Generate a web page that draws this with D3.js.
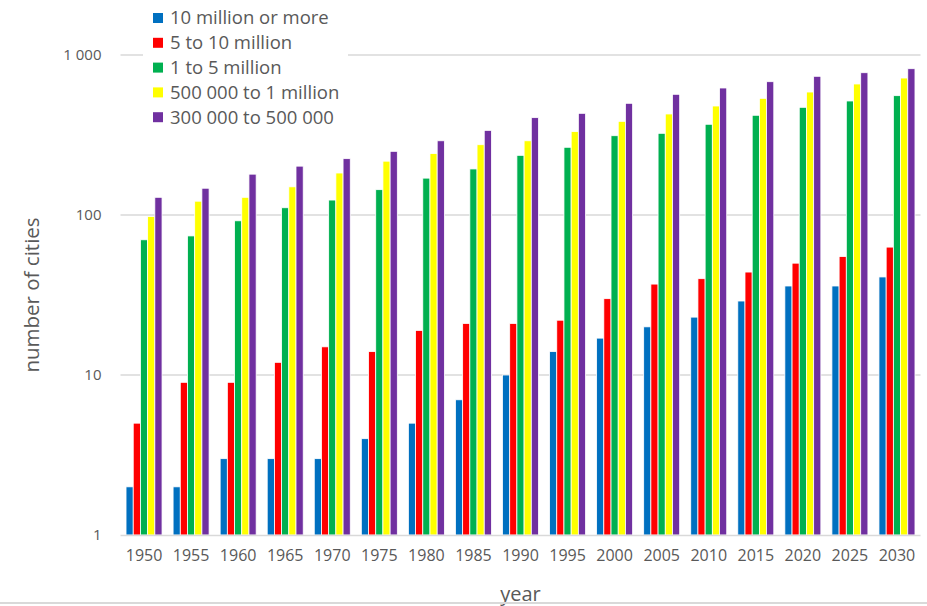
<!DOCTYPE html>
<html>
<head>
<meta charset="utf-8">
<script src="https://cdn.jsdelivr.net/npm/d3@7/dist/d3.min.js"></script>
<style>
  html, body { margin: 0; padding: 0; background: #fff; }
  svg { display: block; }
  text { font-family: "Open Sans", "DejaVu Sans", sans-serif; fill: #595959; }
</style>
</head>
<body>
<svg id="chart" width="927" height="606"></svg>
<script>
// Number of cities by size class, 1950–2030
const years = ["1950","1955","1960","1965","1970","1975","1980","1985","1990","1995","2000","2005","2010","2015","2020","2025","2030"];
const seriesNames = ["10 million or more","5 to 10 million","1 to 5 million","500 000 to 1 million","300 000 to 500 000"];
const seriesColors = ["#0070C0","#FF0000","#00B050","#FFFF00","#7030A0"];

const tenMillionPlus   = [2, 2, 3, 3, 3, 4, 5, 7, 10, 14, 17, 20, 23, 29, 36, 36, 41];
const fiveToTenMillion = [5, 9, 9, 12, 15, 14, 19, 21, 21, 22, 30, 37, 40, 44, 50, 55, 63];
const oneToFiveMillion = [70, 74, 92, 111, 124, 144, 170, 194, 236, 265, 313, 324, 369, 420, 471, 516, 557];
const halfToOneMillion = [98, 122, 129, 150, 183, 217, 242, 275, 291, 332, 385, 428, 480, 536, 587, 659, 718];
const threeToFiveHundredK = [129, 147, 180, 202, 225, 250, 291, 338, 406, 432, 499, 568, 622, 681, 736, 775, 821];

const yTickValues = [1, 10, 100, 1000];
const yTickLabels = ["1", "10", "100", "1 000"];

const seriesValues = [tenMillionPlus, fiveToTenMillion, oneToFiveMillion, halfToOneMillion, threeToFiveHundredK];

const svg = d3.select("#chart");
const plot = { left: 120.5, right: 920.5, top: 55, bottom: 535 };

const x0 = d3.scaleBand().domain(years).range([plot.left, plot.right]).paddingInner(0.235).paddingOuter(0.1175);
const x1 = d3.scaleBand().domain(d3.range(seriesNames.length)).range([0, x0.bandwidth()]).padding(0);
const y = d3.scaleLog().domain([1, 1000]).range([plot.bottom, plot.top]);

// horizontal gridlines
svg.append("g").selectAll("line").data(yTickValues.filter(v => v > 1)).join("line")
  .attr("x1", plot.left).attr("x2", plot.right)
  .attr("y1", d => y(d)).attr("y2", d => y(d))
  .attr("stroke", "#d9d9d9").attr("stroke-width", 1.5);

// bars
const groups = svg.append("g").selectAll("g").data(years).join("g")
  .attr("transform", d => `translate(${x0(d)},0)`);
groups.selectAll("rect")
  .data((yr, i) => seriesValues.map((vals, s) => ({ s, v: vals[i] })))
  .join("rect")
  .attr("x", d => x1(d.s))
  .attr("width", x1.bandwidth())
  .attr("y", d => y(d.v))
  .attr("height", d => y(1) - y(d.v))
  .attr("fill", d => seriesColors[d.s])
  .attr("stroke", "#fff").attr("stroke-width", 0.8);

// x baseline
svg.append("line").attr("x1", plot.left).attr("x2", plot.right)
  .attr("y1", plot.bottom + 0.5).attr("y2", plot.bottom + 0.5)
  .attr("stroke", "#d9d9d9").attr("stroke-width", 1.5);

// y axis labels
const yAxis = d3.axisLeft(y).tickValues(yTickValues)
  .tickFormat((d, i) => yTickLabels[i]).tickSize(0).tickPadding(0);
const gy = svg.append("g").attr("transform", `translate(${plot.left - 19},0)`).call(yAxis);
gy.select(".domain").remove();
gy.selectAll("text").attr("font-size", 15).attr("fill", "#595959")
  .style("font-family", '"Open Sans", sans-serif');

// x axis labels
const xAxis = d3.axisBottom(x0).tickSize(0).tickPadding(0);
const gx = svg.append("g").attr("transform", `translate(0,${plot.bottom + 15})`).call(xAxis);
gx.select(".domain").remove();
gx.selectAll("text").attr("font-size", 16).attr("fill", "#595959")
  .style("font-family", '"Open Sans", sans-serif');

// axis titles
svg.append("text").attr("x", (plot.left + plot.right) / 2).attr("y", 601)
  .attr("text-anchor", "middle").attr("font-size", 20).text("year");
svg.append("text").attr("transform", `translate(39,${(plot.top + plot.bottom) / 2}) rotate(-90)`)
  .attr("text-anchor", "middle").attr("font-size", 20.5).text("number of cities");

// legend
const legend = svg.append("g").attr("transform", "translate(143,6)");
legend.append("rect").attr("x", 0).attr("y", 0).attr("width", 205).attr("height", 122).attr("fill", "#fff");
const items = legend.selectAll("g").data(seriesNames).join("g")
  .attr("transform", (d, i) => `translate(10,${12 + i * 24.8})`);
items.append("rect").attr("x", 0).attr("y", -5).attr("width", 10).attr("height", 10)
  .attr("fill", (d, i) => seriesColors[i]);
items.append("text").attr("x", 17).attr("y", 0).attr("dy", "0.35em")
  .attr("font-size", 18.5).text(d => d);

// bottom border
svg.append("line").attr("x1", 0).attr("x2", 927).attr("y1", 603).attr("y2", 603)
  .attr("stroke", "#d9d9d9").attr("stroke-width", 2);
</script>
</body>
</html>
